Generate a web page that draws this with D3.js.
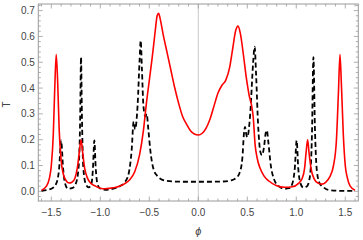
<!DOCTYPE html>
<html>
<head>
<meta charset="utf-8">
<script src="https://cdn.jsdelivr.net/npm/d3@7"></script>
<style>
  body { margin: 0; background: #fff; }
  svg { display: block; font-family: "Liberation Sans", Arial, sans-serif; }
</style>
</head>
<body>
<svg id="chart" width="363" height="240"></svg>
<script>
// red solid curve
const redPhi = [-1.60, -1.55, -1.52, -1.50, -1.48, -1.465, -1.45, -1.435, -1.42, -1.40, -1.38, -1.35, -1.32, -1.29, -1.26, -1.235, -1.215, -1.197, -1.18, -1.16, -1.13, -1.10, -1.05, -1.00, -0.95, -0.90, -0.85, -0.80, -0.75, -0.70, -0.65, -0.60, -0.56, -0.53, -0.50, -0.47, -0.44, -0.42, -0.405, -0.39, -0.36, -0.32, -0.28, -0.24, -0.20, -0.16, -0.12, -0.08, -0.04, 0.00, 0.04, 0.08, 0.12, 0.16, 0.20, 0.24, 0.28, 0.32, 0.35, 0.38, 0.405, 0.43, 0.46, 0.49, 0.52, 0.545, 0.56, 0.58, 0.60, 0.63, 0.67, 0.72, 0.80, 0.88, 0.96, 1.02, 1.06, 1.085, 1.10, 1.116, 1.13, 1.15, 1.18, 1.22, 1.26, 1.30, 1.34, 1.38, 1.41, 1.43, 1.446, 1.46, 1.48, 1.50, 1.52, 1.55, 1.60];
const redT = [0.004, 0.02, 0.05, 0.10, 0.22, 0.40, 0.53, 0.42, 0.24, 0.12, 0.07, 0.042, 0.032, 0.035, 0.05, 0.09, 0.15, 0.20, 0.15, 0.09, 0.05, 0.032, 0.02, 0.012, 0.01, 0.012, 0.015, 0.021, 0.03, 0.045, 0.075, 0.14, 0.236, 0.34, 0.43, 0.52, 0.62, 0.68, 0.69, 0.67, 0.61, 0.54, 0.47, 0.40, 0.34, 0.29, 0.26, 0.235, 0.222, 0.218, 0.225, 0.245, 0.28, 0.33, 0.38, 0.41, 0.43, 0.48, 0.55, 0.62, 0.64, 0.61, 0.53, 0.44, 0.37, 0.33, 0.29, 0.18, 0.13, 0.09, 0.06, 0.04, 0.022, 0.016, 0.018, 0.03, 0.05, 0.09, 0.15, 0.20, 0.15, 0.09, 0.05, 0.032, 0.028, 0.035, 0.055, 0.10, 0.20, 0.38, 0.53, 0.42, 0.22, 0.10, 0.054, 0.02, 0.004];

// black dashed curve
const blackPhi = [-1.60, -1.50, -1.45, -1.42, -1.40, -1.38, -1.36, -1.33, -1.29, -1.25, -1.22, -1.205, -1.197, -1.188, -1.175, -1.15, -1.12, -1.09, -1.075, -1.061, -1.047, -1.03, -1.00, -0.95, -0.90, -0.85, -0.80, -0.75, -0.71, -0.68, -0.66, -0.645, -0.62, -0.60, -0.588, -0.575, -0.56, -0.54, -0.527, -0.51, -0.49, -0.46, -0.42, -0.38, -0.33, -0.25, -0.10, 0.10, 0.25, 0.33, 0.38, 0.42, 0.45, 0.465, 0.477, 0.49, 0.50, 0.53, 0.56, 0.575, 0.59, 0.61, 0.635, 0.65, 0.67, 0.69, 0.70, 0.715, 0.74, 0.77, 0.82, 0.88, 0.93, 0.96, 0.985, 1.004, 1.02, 1.04, 1.07, 1.11, 1.14, 1.16, 1.175, 1.19, 1.21, 1.24, 1.28, 1.33, 1.45, 1.60];
const blackT = [0.002, 0.01, 0.03, 0.09, 0.197, 0.09, 0.03, 0.01, 0.012, 0.03, 0.10, 0.30, 0.52, 0.30, 0.10, 0.03, 0.015, 0.03, 0.09, 0.197, 0.09, 0.03, 0.01, 0.006, 0.008, 0.012, 0.02, 0.035, 0.07, 0.16, 0.27, 0.24, 0.33, 0.50, 0.584, 0.47, 0.33, 0.29, 0.30, 0.24, 0.16, 0.09, 0.06, 0.047, 0.041, 0.038, 0.037, 0.037, 0.038, 0.042, 0.05, 0.07, 0.13, 0.22, 0.25, 0.22, 0.21, 0.30, 0.50, 0.56, 0.45, 0.26, 0.15, 0.14, 0.17, 0.23, 0.236, 0.19, 0.10, 0.05, 0.02, 0.01, 0.012, 0.03, 0.09, 0.197, 0.09, 0.035, 0.015, 0.02, 0.06, 0.22, 0.52, 0.25, 0.08, 0.03, 0.015, 0.005, 0.002, 0.002];

const xMajor = [-1.5, -1.0, -0.5, 0.0, 0.5, 1.0, 1.5];
const yMajor = [0.0, 0.1, 0.2, 0.3, 0.4, 0.5, 0.6, 0.7];

const svg = d3.select("#chart");
const mLeft = 38.3, mRight = 358.3, mTop = 4, mBottom = 201;

const x = d3.scaleLinear().domain([-1.633, 1.633]).range([mLeft, mRight]);
const y = d3.scaleLinear().domain([-0.0375, 0.7256]).range([mBottom, mTop]);

const frameColor = "#9a9a9a";

// zero line
svg.append("line")
  .attr("x1", x(0)).attr("x2", x(0))
  .attr("y1", mTop).attr("y2", mBottom)
  .attr("stroke", "#c8c8c8").attr("stroke-width", 1);

// minor tick values
const xMinor = d3.range(-16, 17).map((i) => i / 10).filter((v) => Math.abs(v * 2 - Math.round(v * 2)) > 1e-6);
const yMinor = d3.range(-1, 37).map((i) => i / 50).filter((v) => Math.abs(v * 10 - Math.round(v * 10)) > 1e-6);

// ticks on all four sides of the frame, pointing inward
const ticks = svg.append("g").attr("stroke", frameColor).attr("stroke-width", 0.8);
const drawX = (vals, len) => {
  vals.filter((v) => x(v) > mLeft && x(v) < mRight).forEach((v) => {
    ticks.append("line").attr("x1", x(v)).attr("x2", x(v)).attr("y1", mBottom).attr("y2", mBottom - len);
    ticks.append("line").attr("x1", x(v)).attr("x2", x(v)).attr("y1", mTop).attr("y2", mTop + len);
  });
};
const drawY = (vals, len) => {
  vals.filter((v) => y(v) > mTop && y(v) < mBottom).forEach((v) => {
    ticks.append("line").attr("x1", mLeft).attr("x2", mLeft + len).attr("y1", y(v)).attr("y2", y(v));
    ticks.append("line").attr("x1", mRight).attr("x2", mRight - len).attr("y1", y(v)).attr("y2", y(v));
  });
};
drawX(xMajor, 4.5);
drawX(xMinor, 2.5);
drawY(yMajor, 4.5);
drawY(yMinor, 2.5);

// curves
svg.append("clipPath").attr("id", "clip")
  .append("rect").attr("x", mLeft).attr("y", mTop).attr("width", mRight - mLeft).attr("height", mBottom - mTop);

const line = d3.line()
  .x((d) => x(d[0]))
  .y((d) => y(d[1]))
  .curve(d3.curveMonotoneX);

svg.append("path")
  .datum(blackPhi.map((p, i) => [p, blackT[i]]))
  .attr("clip-path", "url(#clip)")
  .attr("fill", "none")
  .attr("stroke", "#000")
  .attr("stroke-width", 1.8)
  .attr("stroke-dasharray", "5,3")
  .attr("d", line);

svg.append("path")
  .datum(redPhi.map((p, i) => [p, redT[i]]))
  .attr("clip-path", "url(#clip)")
  .attr("fill", "none")
  .attr("stroke", "#ff0000")
  .attr("stroke-width", 1.6)
  .attr("d", line);

// frame
svg.append("rect")
  .attr("x", mLeft).attr("y", mTop)
  .attr("width", mRight - mLeft).attr("height", mBottom - mTop)
  .attr("fill", "none").attr("stroke", frameColor).attr("stroke-width", 1);

// tick labels
const fmt = (v) => (v < 0 ? "\u2212" : "") + Math.abs(v).toFixed(1);
svg.append("g").selectAll("text").data(xMajor).enter().append("text")
  .attr("x", (d) => x(d)).attr("y", 216)
  .attr("text-anchor", "middle")
  .attr("font-size", 10).attr("fill", "#444")
  .text(fmt);

svg.append("g").selectAll("text").data(yMajor).enter().append("text")
  .attr("x", mLeft - 3.5).attr("y", (d) => y(d) + 3.5)
  .attr("text-anchor", "end")
  .attr("font-size", 10).attr("fill", "#444")
  .text(fmt);

// axis labels
svg.append("text")
  .attr("transform", `translate(10, ${(mTop + mBottom) / 2 + 2}) rotate(-90)`)
  .attr("text-anchor", "middle")
  .attr("font-size", 10).attr("fill", "#444")
  .text("T");

svg.append("text")
  .attr("x", x(0)).attr("y", 235)
  .attr("text-anchor", "middle")
  .attr("font-size", 11).attr("font-style", "italic").attr("fill", "#444")
  .text("ϕ");
</script>
</body>
</html>
